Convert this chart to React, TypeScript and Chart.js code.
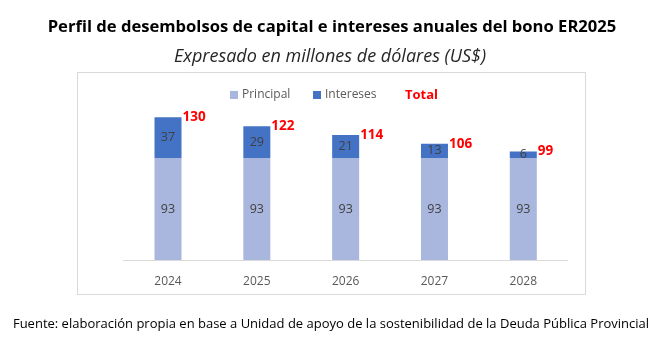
import React, { useEffect, useRef } from "react";
import { Chart, registerables } from "chart.js";

Chart.register(...registerables);

const categories = ["2024", "2025", "2026", "2027", "2028"];
const principal = [93, 93, 93, 93, 93];
const intereses = [37, 29, 21, 13, 6];
const totals = [130, 122, 114, 106, 99];

const TITLE = "Perfil de desembolsos de capital e intereses anuales del bono ER2025";
const SUBTITLE = "Expresado en millones de dólares (US$)";
const FOOTER = "Fuente: elaboración propia en base a Unidad de apoyo de la sostenibilidad de la Deuda Pública Provincial";

const FONT = "'Open Sans', 'Liberation Sans', sans-serif";
const C_PRINCIPAL = "#a9b7de";
const C_INTERESES = "#4472c4";

const decorPlugin = {
  id: "decor",
  beforeDraw(chart: any) {
    const ctx = chart.ctx;
    ctx.save();
    ctx.fillStyle = "#ffffff";
    ctx.fillRect(0, 0, chart.width, chart.height);
    // box
    ctx.strokeStyle = "#d9d9d9";
    ctx.lineWidth = 1;
    ctx.strokeRect(77.5, 72.5, 508, 222);
    // title
    ctx.fillStyle = "#000000";
    ctx.textAlign = "center";
    ctx.textBaseline = "middle";
    ctx.font = `bold 16.6px ${FONT}`;
    ctx.fillText(TITLE, 332, 27);
    ctx.fillStyle = "#262626";
    ctx.font = `italic 18px ${FONT}`;
    ctx.fillText(SUBTITLE, 330, 57);
    // footer
    ctx.fillStyle = "#000000";
    ctx.font = `13px ${FONT}`;
    ctx.fillText(FOOTER, 331, 324);
    // legend
    ctx.textAlign = "left";
    ctx.font = `12px ${FONT}`;
    ctx.fillStyle = C_PRINCIPAL;
    ctx.fillRect(230, 91, 8, 8);
    ctx.fillStyle = "#595959";
    ctx.fillText("Principal", 242, 95);
    ctx.fillStyle = C_INTERESES;
    ctx.fillRect(313, 91, 8, 8);
    ctx.fillStyle = "#595959";
    ctx.fillText("Intereses", 325, 95);
    ctx.fillStyle = "#ff0000";
    ctx.font = `bold 13px ${FONT}`;
    ctx.fillText("Total", 405, 95);
    ctx.restore();
  },
  afterDatasetsDraw(chart: any) {
    const ctx = chart.ctx;
    ctx.save();
    ctx.textBaseline = "middle";
    [0, 1].forEach((di) => {
      const meta = chart.getDatasetMeta(di);
      const data = chart.data.datasets[di].data;
      meta.data.forEach((el: any, i: number) => {
        ctx.fillStyle = "#404040";
        ctx.textAlign = "center";
        ctx.font = `12.5px ${FONT}`;
        ctx.fillText(String(data[i]), el.x, (el.y + el.base) / 2);
      });
    });
    const top = chart.getDatasetMeta(1);
    top.data.forEach((el: any, i: number) => {
      const y = chart.scales.y.getPixelForValue(totals[i]);
      ctx.fillStyle = "#ff0000";
      ctx.textAlign = "left";
      ctx.font = `bold 13.5px ${FONT}`;
      ctx.fillText(String(totals[i]), el.x + el.width / 2 + 1, y);
    });
    ctx.restore();
  },
};

export default function App() {
  const ref = useRef<HTMLCanvasElement>(null);
  useEffect(() => {
    document.body.style.margin = "0";
    const chart = new Chart(ref.current!, {
      type: "bar",
      data: {
        labels: categories,
        datasets: [
          { label: "Principal", data: principal, backgroundColor: C_PRINCIPAL, stack: "s" },
          { label: "Intereses", data: intereses, backgroundColor: C_INTERESES, stack: "s" },
        ],
      },
      options: {
        animation: false,
        responsive: false,
        maintainAspectRatio: false,
        layout: { padding: { left: 123.6, right: 91.3, top: 106.4, bottom: 48.6 } },
        plugins: { legend: { display: false }, tooltip: { enabled: false }, title: { display: false } },
        datasets: { bar: { barPercentage: 0.304, categoryPercentage: 1 } },
        scales: {
          x: {
            stacked: true,
            grid: { display: false, drawTicks: false },
            border: { display: true, color: "#d9d9d9", width: 1 },
            ticks: { color: "#595959", font: { family: FONT, size: 12 }, padding: 14 },
          },
          y: { stacked: true, display: false, min: 0, max: 140 },
        },
      },
      plugins: [decorPlugin],
    });
    return () => chart.destroy();
  }, []);
  return <canvas ref={ref} width={659} height={351} style={{ display: "block" }} />;
}
